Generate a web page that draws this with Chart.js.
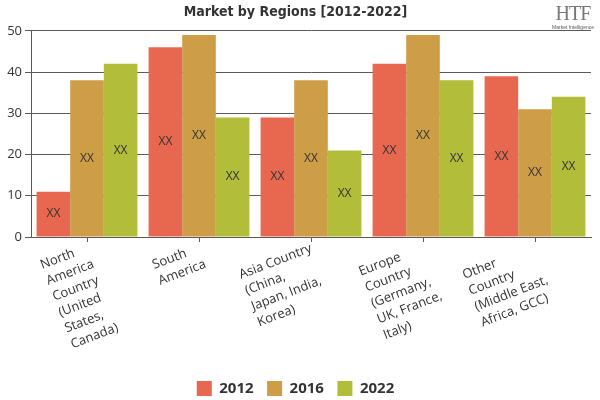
<!DOCTYPE html>
<html>
<head>
<meta charset="utf-8">
<script src="https://cdn.jsdelivr.net/npm/chart.js@4"></script>
<style>
  html, body { margin: 0; padding: 0; background: #fff; }
  #wrap { position: relative; width: 600px; height: 400px; }
  #logo { position: absolute; left: 548px; top: 2px; width: 50px; text-align: center; color: #777; }
  #logo .htf { font-family: 'Liberation Serif', serif; font-size: 20px; letter-spacing: -1px; line-height: 22px; }
  #logo .mi { font-family: 'Liberation Sans', sans-serif; font-size: 5px; color: #555; line-height: 6px; }
</style>
</head>
<body>
<div id="wrap">
  <canvas id="myChart" width="600" height="400"></canvas>
  <div id="logo"><div class="htf">HTF</div><div class="mi">Market Intelligence</div></div>
</div>
<script>
const regions = [
  ['North', 'America', 'Country', '(United', 'States,', 'Canada)'],
  ['South', 'America'],
  ['Asia Country', '(China,', 'Japan, India,', 'Korea)'],
  ['Europe', 'Country', '(Germany,', 'UK, France,', 'Italy)'],
  ['Other', 'Country', '(Middle East,', 'Africa, GCC)'],
];
const years = ['2012', '2016', '2022'];
const values2012 = [11, 46, 29, 42, 39];
const values2016 = [38, 49, 38, 49, 31];
const values2022 = [42, 29, 21, 38, 34];
const yTicks = [0, 10, 20, 30, 40, 50];
const barLabel = 'XX';

const barColors = ['#E8684F', '#CD9E47', '#B2BD3A'];
const lineColor = '#5a5a5a';
const labelAngle = 21;

// text "XX" in the middle of each bar
const centerLabels = {
  id: 'centerLabels',
  afterDatasetsDraw(chart) {
    const ctx = chart.ctx;
    ctx.save();
    ctx.font = '12px "Open Sans", sans-serif';
    ctx.fillStyle = '#333';
    ctx.textAlign = 'center';
    ctx.textBaseline = 'middle';
    chart.data.datasets.forEach((ds, i) => {
      chart.getDatasetMeta(i).data.forEach((bar) => {
        const p = bar.getProps(['x', 'y', 'base'], true);
        ctx.fillText(barLabel, p.x, (p.y + p.base) / 2);
      });
    });
    ctx.restore();
  },
};

// rotated category labels, lines left aligned, block ending at the tick
const rotatedLabels = {
  id: 'rotatedLabels',
  afterDraw(chart) {
    const scale = chart.scales.x;
    const ctx = chart.ctx;
    const angle = labelAngle * Math.PI / 180;
    ctx.save();
    ctx.font = '13px "Open Sans", sans-serif';
    ctx.fillStyle = '#333';
    ctx.textAlign = 'left';
    ctx.textBaseline = 'alphabetic';
    scale.ticks.forEach((t, i) => {
      const lines = chart.data.labels[i];
      const w = Math.max(...lines.map((l) => ctx.measureText(l).width));
      ctx.save();
      ctx.translate(scale.getPixelForTick(i) - 2, scale.top + 5);
      ctx.rotate(-angle);
      lines.forEach((line, k) => ctx.fillText(line, -w, 10 + k * 17));
      ctx.restore();
    });
    ctx.restore();
  },
};

const canvas = document.getElementById('myChart');
new Chart(canvas, {
  type: 'bar',
  data: {
    labels: regions,
    datasets: [
      { label: years[0], data: values2012, backgroundColor: barColors[0] },
      { label: years[1], data: values2016, backgroundColor: barColors[1] },
      { label: years[2], data: values2022, backgroundColor: barColors[2] },
    ],
  },
  options: {
    responsive: false,
    animation: false,
    layout: { padding: { left: 0, right: 9, top: 0, bottom: -6 } },
    datasets: { bar: { categoryPercentage: 0.9, barPercentage: 1.0 } },
    plugins: {
      title: {
        display: true,
        text: 'Market by Regions [2012-2022]',
        color: '#333',
        font: { family: '"DejaVu Sans Condensed", sans-serif', size: 14, weight: 'bold' },
        padding: { top: 4, bottom: 10 },
      },
      legend: {
        position: 'bottom',
        labels: {
          color: '#333',
          boxWidth: 15,
          boxHeight: 15,
          padding: 13.5,
          font: { family: '"Open Sans", sans-serif', size: 15, weight: 'bold' },
        },
      },
      tooltip: { enabled: false },
    },
    scales: {
      x: {
        grid: {
          display: true,
          drawOnChartArea: false,
          offset: false,
          color: lineColor,
          tickLength: 5,
        },
        border: { color: lineColor },
        ticks: { display: false },
        afterFit(scale) { scale.height = 130.5; },
      },
      y: {
        min: 0,
        max: 50,
        afterBuildTicks(scale) { scale.ticks = yTicks.map((v) => ({ value: v })); },
        grid: { color: lineColor, tickLength: 6 },
        border: { color: lineColor },
        ticks: {
          color: '#333',
          font: { family: '"Open Sans", sans-serif', size: 13 },
          padding: 3,
        },
        afterFit(scale) { scale.width = 31; },
      },
    },
  },
  plugins: [centerLabels, rotatedLabels],
});
</script>
</body>
</html>
